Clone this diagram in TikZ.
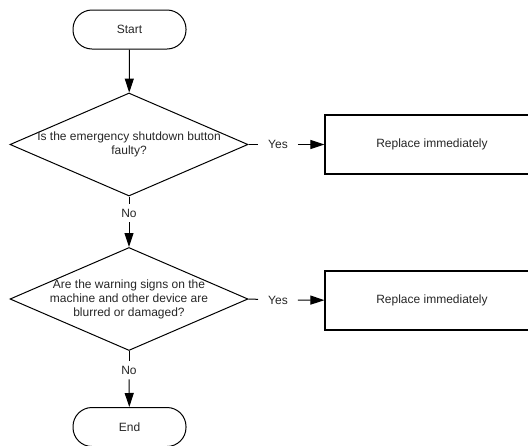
\documentclass[tikz,border=0pt]{standalone}
\usepackage{fontspec}
\setmainfont{Liberation Sans}
\usetikzlibrary{arrows.meta,shapes.geometric}
\begin{document}
\begin{tikzpicture}[x=1pt,y=-1pt,
  every node/.style={font=\fontsize{12}{14}\selectfont, text=black!85},
  terminal/.style={draw, line width=1pt, rectangle, rounded corners=19pt,
    minimum width=113pt, minimum height=39pt, inner sep=0pt},
  decision/.style={draw, line width=1pt, diamond, minimum width=238pt,
    minimum height=103pt, inner sep=0pt},
  process/.style={draw, line width=1.1pt, rectangle, minimum width=214pt,
    minimum height=59pt, inner sep=0pt},
  branch/.style={inner xsep=10pt, inner ysep=5pt},
  flow/.style={line width=1pt, -{Triangle[length=14pt,width=9pt]}},
  plain/.style={line width=1pt}]
\useasboundingbox (0,0) rectangle (528,445);

% main column
\node[terminal] (start) at (129.5,29.5) {Start};
\node[decision] (d1) at (129,144.5) {};
\node[align=center] (q1) at (129,144.5) {Is the emergency shutdown button\\faulty?};
\node[branch] (no1) at (129,213) {No};
\node[decision] (d2) at (129,299) {};
\node[align=center] (q2) at (129,299.5) {Are the warning signs on the\\machine and other device are\\blurred or damaged?};
\node[branch] (no2) at (129,370) {No};
\node[terminal] (end) at (129.5,427) {End};

% yes branches
\node[branch] (yes1) at (278,144.5) {Yes};
\node[process] (r1) at (432,144.5) {Replace immediately};
\node[branch] (yes2) at (278,300) {Yes};
\node[process] (r2) at (432,300.5) {Replace immediately};

% connectors
\draw[flow] (start) -- (d1);
\draw[plain] (d1.south) -- (no1);
\draw[flow] (no1) -- (d2);
\draw[plain] (d2.south) -- (no2);
\draw[flow] (no2) -- (end);
\draw[plain] (d1.east) -- (yes1);
\draw[flow] (yes1) -- (r1);
\draw[plain] (d2.east) -- (yes2);
\draw[flow] (yes2) -- (r2);
\end{tikzpicture}
\end{document}
